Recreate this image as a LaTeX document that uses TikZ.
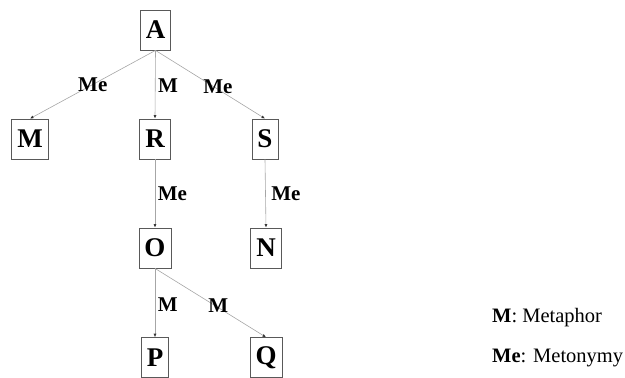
\documentclass[tikz,border=0pt]{standalone}
\usepackage{fontspec}
\setmainfont{Liberation Serif}
\usetikzlibrary{arrows.meta}
\begin{document}
\begin{tikzpicture}[x=1pt,y=-1pt,
  box/.style={draw=black!65,line width=0.8pt,inner xsep=5.5pt,inner ysep=0pt,minimum height=40pt,
    font=\fontsize{27}{30}\selectfont\bfseries},
  rel/.style={draw=black!35,line width=0.6pt,-{Latex[length=3.5pt,width=3pt,black!80]}},
  lab/.style={inner sep=2.5pt,font=\fontsize{21}{24}\selectfont\bfseries},
  leg/.style={inner sep=0pt,anchor=base west,font=\fontsize{20.5}{24}\selectfont}]
\useasboundingbox (0,0) rectangle (625,378);
\node[box] (A) at (155.5,30) {A};
\node[box] (M) at (30,139) {M};
\node[box] (R) at (155,139) {R};
\node[box] (S) at (265,139) {S};
\node[box] (O) at (155,248) {O};
\node[box] (N) at (266,248) {N};
\node[box] (P) at (155,357.6) {P};
\node[box] (Q) at (266,357.6) {Q};
\draw[rel] (A.south) -- node[lab,pos=0.5] {Me} (M.north);
\draw[rel] (A.south) -- node[lab,right,pos=0.52] {M} (R.north);
\draw[rel] (A.south) -- node[lab,pos=0.57,yshift=3pt] {Me} (S.north);
\draw[rel] (R.south) -- node[lab,right,pos=0.5] {Me} (O.north);
\draw[rel] (S.south) -- node[lab,right,pos=0.5,xshift=3pt] {Me} (N.north);
\draw[rel] (O.south) -- node[lab,right,pos=0.52] {M} (P.north);
\draw[rel] (O.south) -- node[lab,pos=0.57,yshift=2pt] {M} (Q.north);
\node[leg] (l1) at (492,322) {\textbf{M}: Metaphor};
\node[leg] (l2) at (492,362) {\textbf{Me}: Metonymy};
\end{tikzpicture}
\end{document}
